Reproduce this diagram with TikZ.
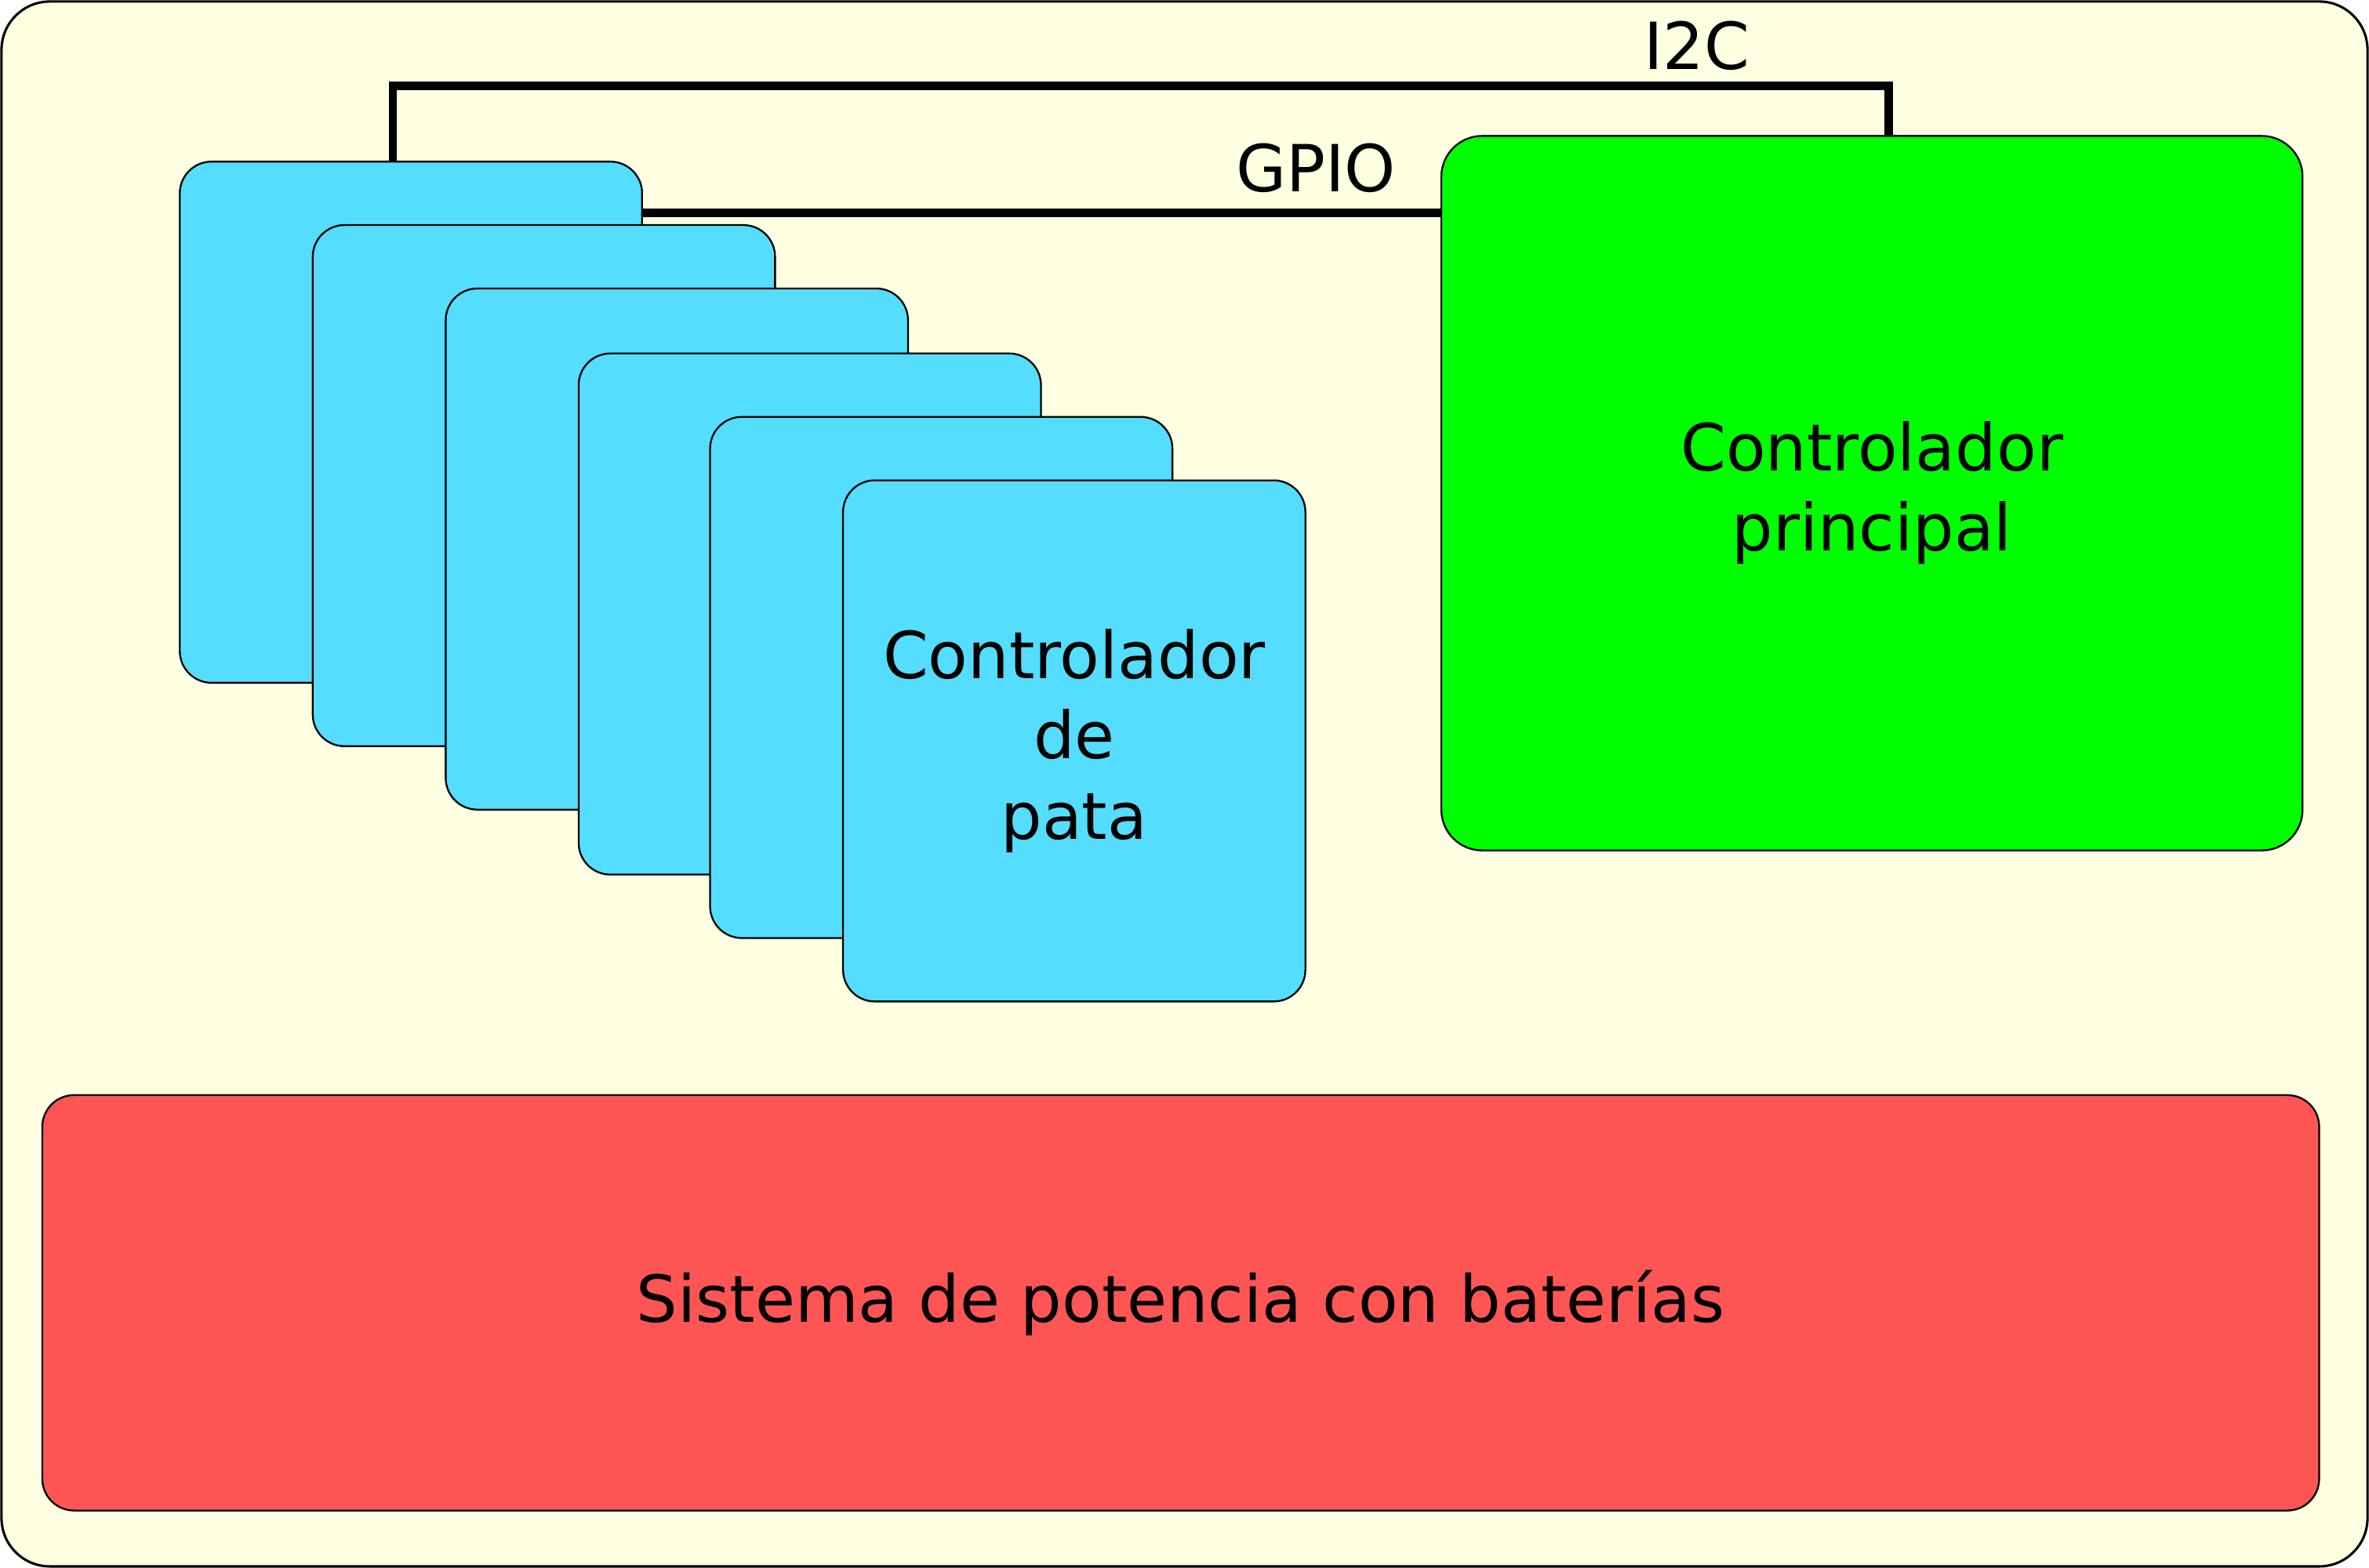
\documentclass[tikz,border=0pt]{standalone}
\usepackage{fontspec}
\setmainfont{DejaVu Sans}
\usetikzlibrary{calc,backgrounds}
\pgfdeclarelayer{wirelayer}
\pgfsetlayers{background,wirelayer,main}
\definecolor{bgyellow}{HTML}{FFFFE2}
\definecolor{legblue}{HTML}{55DDFF}
\definecolor{maingreen}{HTML}{00FF00}
\definecolor{powred}{HTML}{FF5555}
\tikzset{
  lbl/.style={font=\fontsize{21.5}{26.5}\selectfont, text=black},
  boxbase/.style={draw=black, line width=0.6pt, inner sep=0pt, outer sep=0pt, anchor=north west, align=center, lbl},
  legbox/.style={boxbase, fill=legblue, rounded corners=10.5pt, minimum width=153pt, minimum height=172.5pt},
  mainbox/.style={boxbase, fill=maingreen, rounded corners=13.5pt, minimum width=285pt, minimum height=236.5pt},
  powbox/.style={boxbase, fill=powred, rounded corners=10.5pt, minimum width=753.5pt, minimum height=137.5pt},
  framebox/.style={draw=black, line width=0.8pt, fill=bgyellow, rounded corners=16pt, inner sep=0pt, outer sep=0pt, anchor=north west, minimum width=783pt, minimum height=518pt},
  wire/.style={draw=black, line width=2.8pt}
}
\begin{document}
\begin{tikzpicture}[x=0.5pt,y=-0.5pt]
\useasboundingbox (0,0) rectangle (1568,1038);
\begin{pgfonlayer}{background}
\node[framebox] (frame) at (1,1) {};
\end{pgfonlayer}
\node[legbox] (b1) at (119,107) {};
\node[legbox] (b2) at (207,149) {};
\node[legbox] (b3) at (295,191) {};
\node[legbox] (b4) at (383,234) {};
\node[legbox] (b5) at (470,276) {};
\node[legbox] (b6) at (558,318) {Controlador\\de\\pata};
\node[mainbox] (main) at (954,90) {Controlador\\principal};
\node[powbox] (pow) at (28,725) {Sistema de potencia con baterías};
\begin{pgfonlayer}{wirelayer}
\draw[wire] ($(b1.north west)+(141,0)$) -- ++(0,-50) -| ($(main.north west)+(296,0)$);
\draw[wire] ($(b1.north east)+(0,34)$) -- ($(main.north west)+(0,51)$);
\end{pgfonlayer}
\node[lbl, anchor=base] (i2c) at (1123,46) {I2C};
\node[lbl, anchor=base] (gpio) at (871,127) {GPIO};
\end{tikzpicture}
\end{document}
